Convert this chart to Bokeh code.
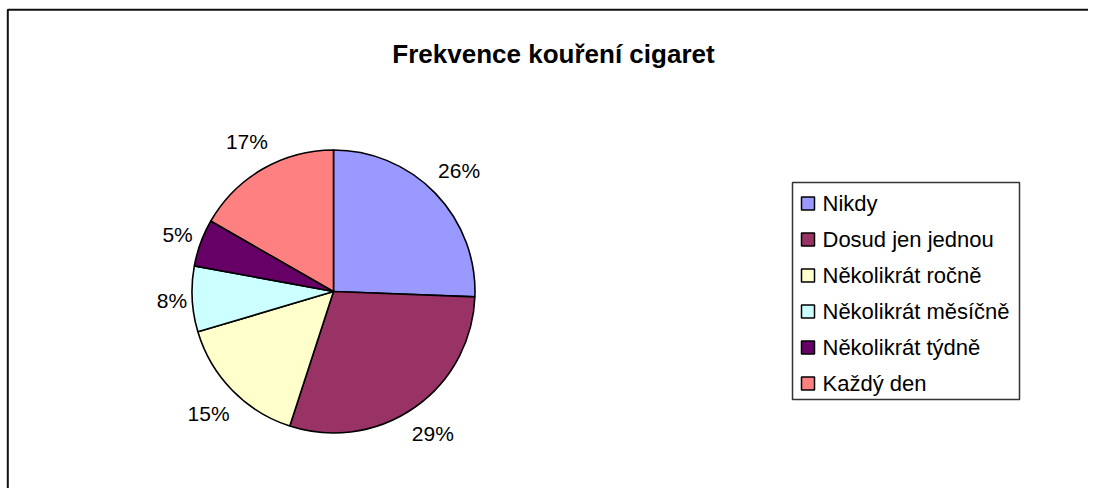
import numpy as np
from bokeh.plotting import figure
from bokeh.models import Range1d, Span
from bokeh.core.properties import value
from bokeh.embed import file_html
from bokeh.resources import INLINE

# ---- data ----
categories = ["Nikdy", "Dosud jen jednou", "Několikrát ročně",
              "Několikrát měsíčně", "Několikrát týdně", "Každý den"]
shares = [25.6, 29.4, 15.4, 7.5, 5.4, 16.7]
labels = ["26%", "29%", "15%", "8%", "5%", "17%"]
colors = ["#9999FF", "#993366", "#FFFFCC", "#CCFFFF", "#660066", "#FF8080"]
title = "Frekvence kouření cigaret"

W, H = 1088, 488
FONT = "Liberation Sans"

p = figure(width=W, height=H, output_backend="svg", toolbar_location=None,
           x_range=Range1d(0, W), y_range=Range1d(0, H),
           x_axis_type=None, y_axis_type=None, min_border=0)
p.outline_line_color = None
p.grid.visible = False
p.background_fill_color = "white"
p.border_fill_color = "white"


def px(x):
    return x


def py(y):
    return H - y


# chart area frame (only left and top edges visible in the window)
p.quad(left=[7.3], right=[W + 60], top=[py(9.3)], bottom=[-60],
       fill_color=None, line_color="#111111", line_width=2)

# title
p.text(x=[px(553)], y=[py(53)], text=[title], text_font=value(FONT),
       text_font_size="26px", text_font_style="bold", text_align="center",
       text_baseline="alphabetic", text_color="black")

# pie
cx, cy, r = px(333), py(291), 141.5
vals = np.array(shares, dtype=float)
frac = vals / vals.sum()
cum = np.concatenate([[0], np.cumsum(frac)])
start = np.pi / 2 - 2 * np.pi * cum[:-1]
end = np.pi / 2 - 2 * np.pi * cum[1:]
p.wedge(x=cx, y=cy, radius=r, start_angle=start, end_angle=end,
        direction="clock", fill_color=colors, line_color="black",
        line_width=1.6)

# data labels placed outside the pie along each slice's middle angle
mid = np.pi / 2 - 2 * np.pi * (cum[:-1] + cum[1:]) / 2
lx, ly = [], []
for m, lab in zip(mid, labels):
    w = 0.68 * 21 * len(lab)
    h = 36
    sx, sy = np.cos(m), np.sin(m)
    d = r + 5 + abs(sx) * w / 2 + abs(sy) * h / 2
    lx.append(cx + d * sx)
    ly.append(cy + d * sy)
p.text(x=lx, y=ly, text=labels, text_font=value(FONT), text_font_size="21px",
       text_align="center", text_baseline="middle", text_color="black")

# legend
box_l, box_r, box_t, box_b = 792, 1019, 182, 399
p.quad(left=px(box_l), right=px(box_r), top=py(box_t), bottom=py(box_b),
       fill_color="white", line_color="#333333", line_width=1.5)
n = len(categories)
row_y = [py(203 + 36 * i) for i in range(n)]
p.rect(x=[px(807.5)] * n, y=row_y, width=13, height=13, fill_color=colors,
       line_color="black", line_width=1.5)
p.text(x=[px(822)] * n, y=row_y, text=categories, text_font=value(FONT),
       text_font_size="22px", text_align="left", text_baseline="middle",
       text_color="black")

open("out.html", "w").write(file_html(p, INLINE))
